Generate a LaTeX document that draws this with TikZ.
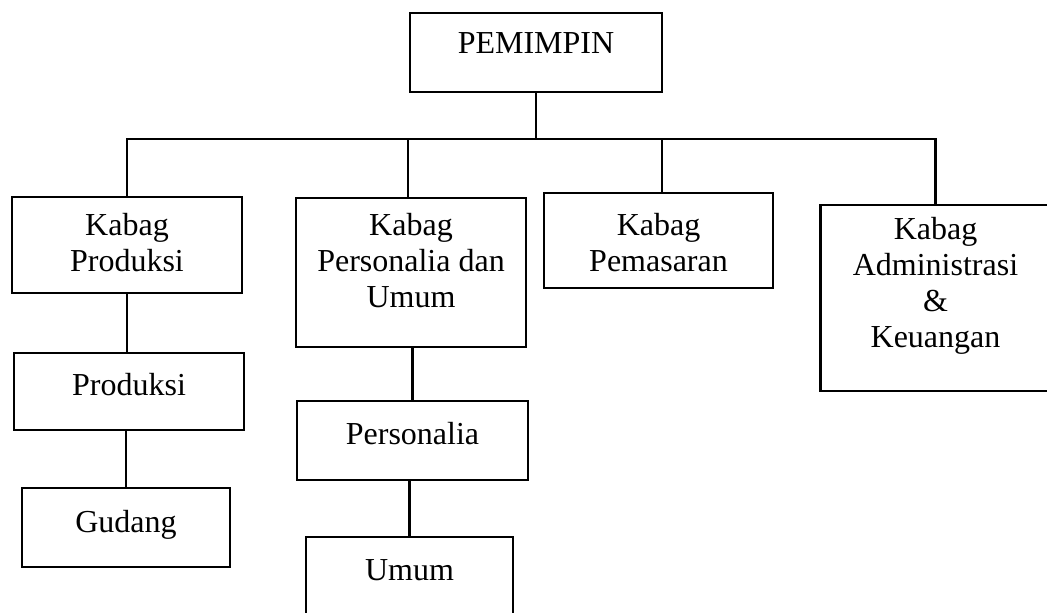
\documentclass[tikz,border=0pt]{standalone}
\usepackage{fontspec}
\setmainfont{Liberation Serif}
\usetikzlibrary{positioning}

\begin{document}
\begin{tikzpicture}[x=0.5pt, y=-0.5pt,
  font=\fontsize{16}{18}\selectfont,
  line width=1.1pt,
  box/.style={draw, inner sep=0pt},
  txt/.style={inner sep=0pt, align=center}]
\useasboundingbox (0,0) rectangle (1047,612);
% boxes
\node[box, minimum width=126pt, minimum height=39.5pt] (pem) at (536,52.5) {};
\node[box, minimum width=115pt, minimum height=48pt] (kprod) at (127,245) {};
\node[box, minimum width=115pt, minimum height=74.5pt] (kpers) at (411,272.5) {};
\node[box, minimum width=114.5pt, minimum height=47.5pt] (kpem) at (658.5,240.5) {};
\node[box, minimum width=115pt, minimum height=93pt] (kadm) at (935.5,298) {};
\node[box, minimum width=115pt, minimum height=38.5pt] (prod) at (129,391.5) {};
\node[box, minimum width=104pt, minimum height=39.5pt] (gud) at (126,527.5) {};
\node[box, minimum width=115.5pt, minimum height=39.5pt] (pers) at (412.5,440.5) {};
\node[box, minimum width=103.5pt, minimum height=40pt] (umum) at (409.5,577) {};
% texts
\node[txt, below=10pt of pem.north] (pemt) {PEMIMPIN};
\node[txt, below=8pt of kprod.north] (kprodt) {Kabag\\Produksi};
\node[txt, below=7.5pt of kpers.north] (kperst) {Kabag\\Personalia dan\\Umum};
\node[txt, below=10pt of kpem.north] (kpemt) {Kabag\\Pemasaran};
\node[txt, below=6pt of kadm.north] (kadmt) {Kabag\\Administrasi\\\&\\Keuangan};
\node[txt, below=10pt of prod.north] (prodt) {Produksi};
\node[txt, below=11pt of gud.north] (gudt) {Gudang};
\node[txt, below=10.5pt of pers.north] (perst) {Personalia};
\node[txt, below=11.5pt of umum.north] (umumt) {Umum};
% lines
\path (pem.south) ++(0,46) coordinate (bus);
\draw (pem.south) -- (bus);
\draw (kprod.north) |- (bus) -| (kadm.north);
\draw ([xshift=-1.5pt]kpers.north) -- ([xshift=-1.5pt]kpers.north |- bus);
\draw ([xshift=1.75pt]kpem.north) -- ([xshift=1.75pt]kpem.north |- bus);
\draw (kprod.south) -- (kprod.south |- prod.north);
\draw (gud.north) -- (gud.north |- prod.south);
\draw (pers.north) -- (pers.north |- kpers.south);
\draw (umum.north) -- (umum.north |- pers.south);
\end{tikzpicture}
\end{document}
